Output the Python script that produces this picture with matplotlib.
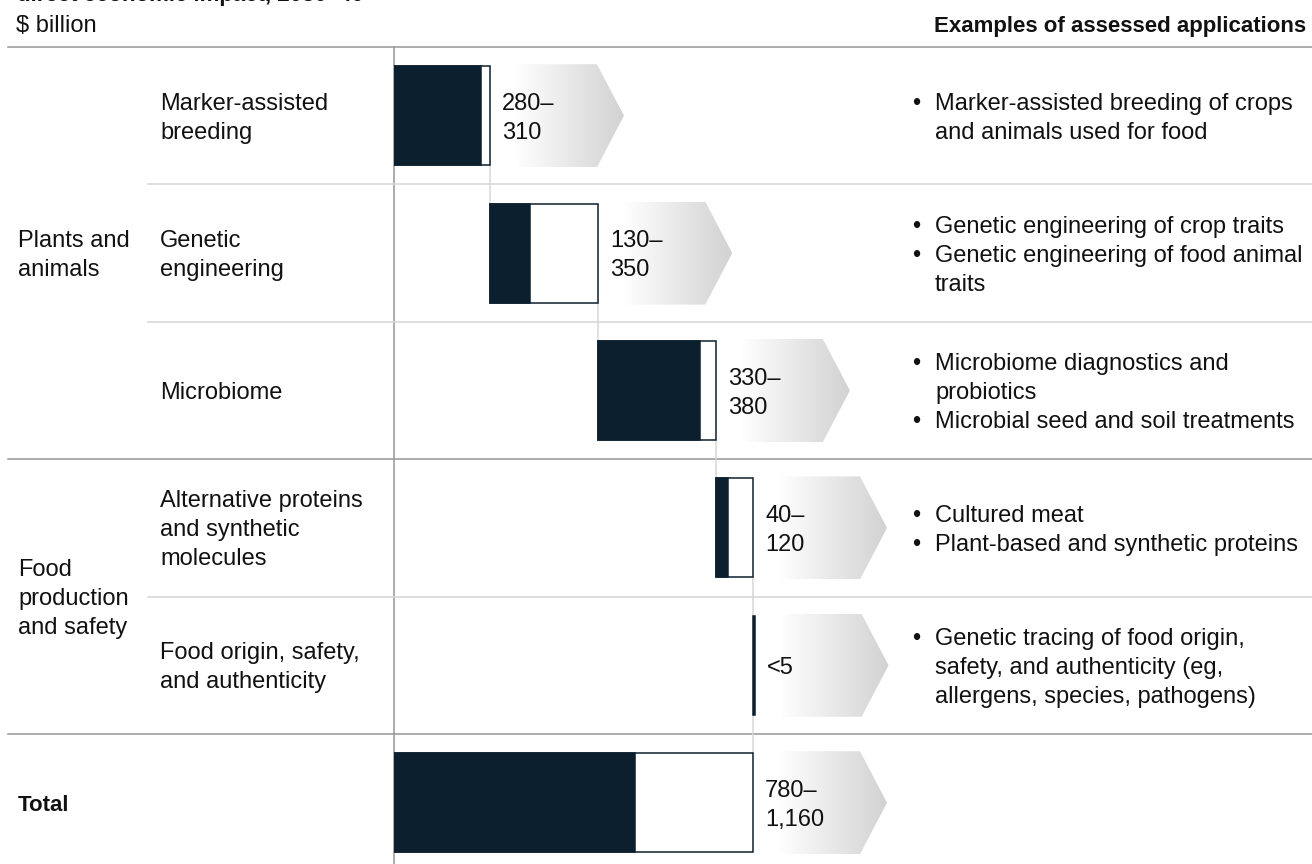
import matplotlib.pyplot as plt
import numpy as np
from matplotlib.patches import Polygon
from matplotlib.colors import LinearSegmentedColormap

plt.rcParams['font.family'] = ['Liberation Sans', 'DejaVu Sans']

# data
groups = ['Plants and\nanimals', 'Food\nproduction\nand safety']
group_rows = [(0, 2), (3, 4)]
levers = ['Marker-assisted\nbreeding', 'Genetic\nengineering', 'Microbiome',
          'Alternative proteins\nand synthetic\nmolecules',
          'Food origin, safety,\nand authenticity']
low = [280, 130, 330, 40, 0]
high = [310, 350, 380, 120, 5]
value_labels = ['280–\n310', '130–\n350', '330–\n380', '40–\n120', '<5']
total_low = 780
total_high = 1160
total_label = '780–\n1,160'
examples = [
    ['Marker-assisted breeding of crops\nand animals used for food'],
    ['Genetic engineering of crop traits',
     'Genetic engineering of food animal\ntraits'],
    ['Microbiome diagnostics and\nprobiotics',
     'Microbial seed and soil treatments'],
    ['Cultured meat', 'Plant-based and synthetic proteins'],
    ['Genetic tracing of food origin,\nsafety, and authenticity (eg,\nallergens, species, pathogens)'],
]

navy = '#0b1f2e'
txt = '#111111'
dark_rule = '#9a9a9a'
light_rule = '#d6d6d6'
fs = 17

W, H = 1312, 864
top = 47          # px of top rule
row_h = 137.4     # px per row
x_zero = 394      # px of value axis
ppu = 359 / 1160  # px per $ billion
pitch = 29        # line pitch px
base = 8.5        # baseline offset from line centre, px
n_rows = len(levers) + 1

fig = plt.figure(figsize=(W / 100, H / 100), dpi=100)
bg = fig.add_axes([0, 0, 1, 1])
bg.set_xlim(0, W)
bg.set_ylim(H, 0)
bg.axis('off')


def row_center(i):
    return top + row_h * (i + 0.5)


def multiline(axis, x, yc, text, step, off, **kw):
    lines = text.split('\n')
    n = len(lines)
    for k, line in enumerate(lines):
        axis.text(x, yc + (k - (n - 1) / 2) * step + off, line,
                  va='baseline', fontsize=fs, color=txt, **kw)


# header (title line is cut by the top edge, as in the source)
bg.text(17, 1, 'direct economic impact, 2030–40', fontsize=16,
        fontweight='bold', va='baseline', color=txt)
bg.text(16, 32, '$ billion', fontsize=fs, va='baseline', color=txt)
bg.text(1306, 32, 'Examples of assessed applications', fontsize=16,
        fontweight='bold', va='baseline', ha='right', color=txt)

# rules
lw = 1.6 * 0.72
bg.plot([8, W], [top, top], color=dark_rule, lw=lw)
bg.plot([x_zero, x_zero], [top, H], color=dark_rule, lw=lw)
group_ends = [g[1] for g in group_rows]
for i in range(len(levers)):
    y = top + row_h * (i + 1)
    if i in group_ends:
        bg.plot([8, W], [y, y], color=dark_rule, lw=lw)
    else:
        bg.plot([148, W], [y, y], color=light_rule, lw=lw)

# left labels
for g, (r0, r1) in zip(groups, group_rows):
    yc = (row_center(r0) + row_center(r1)) / 2
    multiline(bg, 18, yc, g, pitch, base)
for i, lv in enumerate(levers):
    multiline(bg, 160, row_center(i), lv, pitch, base)
bg.text(18, row_center(n_rows - 1) + base, 'Total', fontsize=16,
        fontweight='bold', va='baseline', color=txt)

# examples column
for i, items in enumerate(examples):
    lines = []
    for item in items:
        for k, line in enumerate(item.split('\n')):
            lines.append((k == 0, line))
    n = len(lines)
    for k, (bullet, line) in enumerate(lines):
        y = row_center(i) + (k - (n - 1) / 2) * pitch + base
        if bullet:
            bg.text(912, y, '•', fontsize=fs, va='baseline', color=txt)
        bg.text(935, y, line, fontsize=fs, va='baseline', color=txt)

# waterfall axes
ax = fig.add_axes([x_zero / W, 0, (W - x_zero) / W, (H - top) / H])
ax.patch.set_visible(False)
ax.axis('off')

starts = np.concatenate([[0], np.cumsum(high)[:-1]])
starts[-1] = total_high  # last item sits on the total line
bh = 99 / row_h
ah = 103 / row_h
cmap = LinearSegmentedColormap.from_list('fade', ['#fefefe', '#d2d2d2'])
grad = np.linspace(0, 1, 256).reshape(1, -1)

bar_starts = list(starts) + [0]
bar_low = low + [total_low]
bar_high = high + [total_high]
bar_labels = value_labels + [total_label]

for i in range(n_rows):
    s = bar_starts[i]
    tiny = bar_high[i] * ppu < 4
    ax.barh(i, bar_high[i], left=s, height=bh,
            color=navy if tiny else 'white',
            edgecolor=navy, lw=1.1, zorder=3)
    if bar_low[i] > 0:
        ax.barh(i, bar_low[i], left=s, height=bh, color=navy,
                edgecolor=navy, lw=1.1, zorder=4)
    end = s + bar_high[i]
    # gradient arrow
    x0 = end + 27 / ppu
    x1 = end + 107 / ppu
    x2 = end + 134 / ppu
    poly = Polygon([(x0, i - ah / 2), (x1, i - ah / 2), (x2, i),
                    (x1, i + ah / 2), (x0, i + ah / 2)],
                   closed=True, transform=ax.transData)
    im = ax.imshow(grad, extent=[x0, x2, i + ah / 2, i - ah / 2], cmap=cmap,
                   aspect='auto', interpolation='bilinear', zorder=1)
    im.set_clip_path(poly)
    multiline(ax, end + 12 / ppu, i, bar_labels[i], pitch / row_h,
              base / row_h, zorder=5)

# connectors
conn_x = list(starts[1:]) + [total_high]
for i, cx in enumerate(conn_x):
    ax.plot([cx, cx], [i + bh / 2, i + 1 - bh / 2], color=light_rule,
            lw=1.5 * 0.72, zorder=2)

ax.set_xlim(0, (W - x_zero) / ppu)
ax.set_ylim(-0.5 + (H - top) / row_h, -0.5)

fig.savefig('out.png', dpi=100)
